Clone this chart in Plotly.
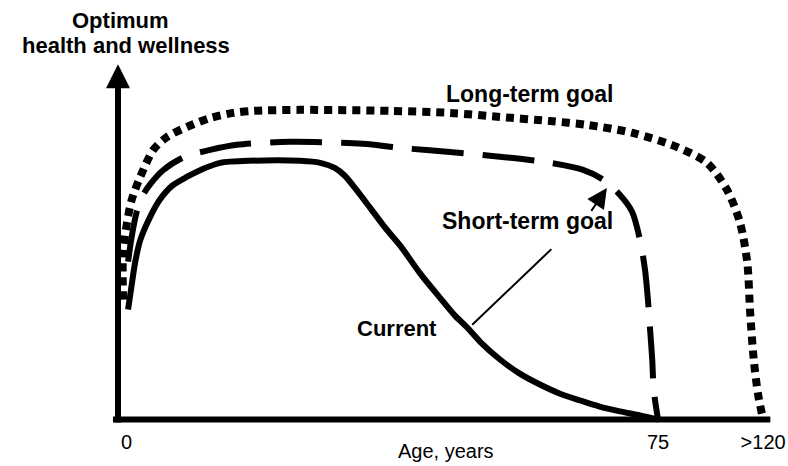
import plotly.graph_objects as go

# ---- data (schematic units) ----
# x: schematic age position (75 = "75 years"), y: level of health/wellness (0-100 scale)
current_age = [1.4, 1.8, 2.4, 3.1, 4.4, 5.8, 7.5, 9.6, 12.1, 14.2, 18.3, 25.3, 28.1, 30.1, 31.5, 32.9,
               35.0, 37.1, 39.2, 41.9, 44.7, 46.8, 48.5, 50.3, 53.1, 55.8, 58.6, 61.4, 64.2, 66.9,
               69.7, 72.5, 75.0]
current_level = [32.4, 38.2, 46.5, 52.9, 59.4, 64.7, 68.8, 71.5, 74.1, 75.6, 76.2, 76.2, 75.6, 74.1, 71.8, 68.2,
                 62.4, 56.5, 51.2, 43.2, 35.9, 30.6, 27.1, 22.9, 17.6, 13.5, 10.3, 7.6, 5.6, 3.8,
                 2.4, 1.2, 0.0]

short_age = [1.4, 1.9, 2.6, 3.5, 4.4, 6.3, 9.3, 12.8, 16.5, 23.9, 34.0, 39.2, 46.1, 54.4, 60.0, 64.6,
             67.4, 69.7, 71.4, 72.5, 73.2, 73.6, 73.9, 74.2, 74.4, 75.0]
short_level = [46.5, 53.8, 61.2, 66.2, 69.1, 73.5, 77.4, 79.4, 80.9, 81.8, 81.2, 80.0, 78.8, 77.1, 75.6, 73.5,
               70.6, 66.2, 61.2, 52.9, 44.1, 35.3, 26.5, 17.6, 8.8, 0.0]

long_age = [0.7, 0.7, 1.25, 1.9, 3.1, 4.9, 6.8, 9.6, 12.8, 16.0, 18.8, 25.3, 37.8, 46.1, 53.1, 60.0,
            65.1, 71.5, 77.6, 81.8, 84.6, 86.4, 87.4, 87.8, 88.3, 88.9, 89.6]
long_level = [35.3, 49.1, 57.9, 64.7, 71.5, 79.4, 83.2, 86.2, 88.8, 90.3, 90.9, 91.2, 90.9, 90.3, 89.1, 87.9,
              86.8, 84.4, 80.3, 75.6, 67.6, 57.9, 46.2, 31.5, 17.6, 7.4, 0.0]

tick_pos = [1.2, 75, 89.6]
tick_text = ["0", "75", ">120"]

BOLD = "Liberation Sans"

fig = go.Figure()

fig.add_trace(go.Scatter(x=long_age, y=long_level, mode="lines", name="Long-term goal",
                         line=dict(color="black", width=8, dash="8px,6px", shape="spline", smoothing=0.8)))
fig.add_trace(go.Scatter(x=short_age, y=short_level, mode="lines", name="Short-term goal",
                         line=dict(color="black", width=6, dash="52px,19px", shape="spline", smoothing=0.8)))
fig.add_trace(go.Scatter(x=current_age, y=current_level, mode="lines", name="Current",
                         line=dict(color="black", width=6, shape="spline", smoothing=0.8)))

# x axis line
fig.add_shape(type="line", xref="x", yref="y", x0=-0.7, x1=90.6, y0=0, y1=0,
              line=dict(color="black", width=6))

annotations = [
    # y axis with arrow
    dict(x=0, y=104.6, ax=0, ay=-1.3, xref="x", yref="y", axref="x", ayref="y", text="",
         showarrow=True, arrowhead=2, arrowwidth=6, arrowsize=0.8, arrowcolor="black"),
    # pointer to short-term goal
    dict(x=67.9, y=68.2, ax=65.6, ay=61.0, xref="x", yref="y", axref="x", ayref="y", text="",
         showarrow=True, arrowhead=2, arrowwidth=2, arrowsize=2.0, arrowcolor="black"),
    # leader from Current curve to Short-term goal label
    dict(x=49.2, y=27.9, ax=60.4, ay=50.6, xref="x", yref="y", axref="x", ayref="y", text="",
         showarrow=True, arrowhead=0, arrowwidth=2, arrowcolor="black"),
    dict(x=0.4, y=1.1177, xref="x", yref="paper", text="<b>Optimum</b>", showarrow=False,
         font=dict(family=BOLD, size=22, color="black"), xanchor="center", yanchor="middle"),
    dict(x=1.1, y=1.049, xref="x", yref="paper", text="<b>health and wellness</b>", showarrow=False,
         font=dict(family=BOLD, size=22, color="black"), xanchor="center", yanchor="middle"),
    dict(x=57.1, y=95.9, xref="x", yref="y", text="<b>Long-term goal</b>", showarrow=False,
         font=dict(family=BOLD, size=23, color="black"), xanchor="center", yanchor="middle"),
    dict(x=56.9, y=58.5, xref="x", yref="y", text="<b>Short-term goal</b>", showarrow=False,
         font=dict(family=BOLD, size=23, color="black"), xanchor="center", yanchor="middle"),
    dict(x=38.8, y=26.8, xref="x", yref="y", text="<b>Current</b>", showarrow=False,
         font=dict(family=BOLD, size=22, color="black"), xanchor="center", yanchor="middle"),
    dict(x=45.6, y=-0.0643, xref="x", yref="paper", text="Age, years", showarrow=False,
         font=dict(family="Liberation Sans", size=20, color="black"), xanchor="center", yanchor="middle"),
]

fig.update_layout(
    width=788, height=466,
    margin=dict(l=100, r=13, t=63, b=37.5, pad=0),
    paper_bgcolor="white", plot_bgcolor="white",
    showlegend=False,
    annotations=annotations,
    xaxis=dict(range=[-2.5, 91.25], showgrid=False, zeroline=False, showline=False,
               tickmode="array", tickvals=tick_pos, ticktext=tick_text, ticks="",
               tickfont=dict(family="Liberation Sans", size=20, color="black"),
               automargin=False, fixedrange=True),
    yaxis=dict(range=[-2.5, 105], showgrid=False, zeroline=False, showline=False,
               showticklabels=False, ticks="", automargin=False, fixedrange=True),
)

fig.write_html("out.html", config={"displayModeBar": False},
               post_script="document.body.style.margin='0';document.body.style.overflow='hidden';")
